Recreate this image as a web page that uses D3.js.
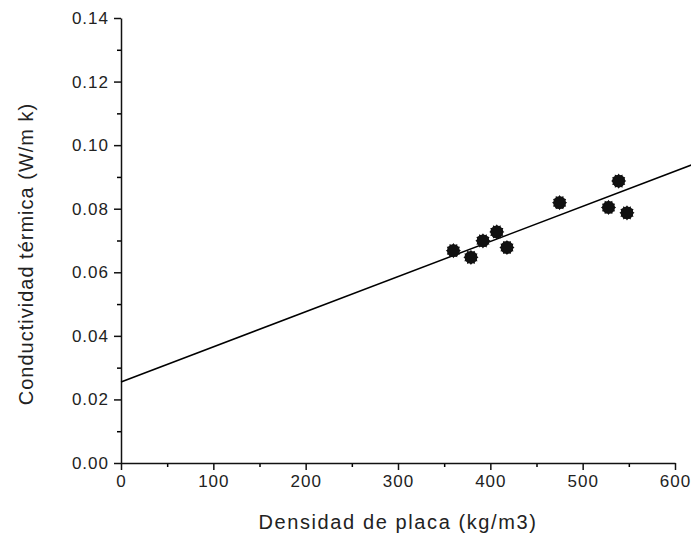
<!DOCTYPE html>
<html>
<head>
<meta charset="utf-8">
<script src="https://cdn.jsdelivr.net/npm/d3@7"></script>
<style>
  body { margin: 0; background: #fff; }
  text { font-family: "Liberation Sans", Arial, sans-serif; fill: #222; }
</style>
</head>
<body>
<div id="chart"></div>
<script>
// measured points: plate density (kg/m3) vs thermal conductivity (W/m k)
var densidad = [360, 379, 392, 407, 418, 475, 528, 539, 548];
var conductividad = [0.0668, 0.0647, 0.0699, 0.0727, 0.0678, 0.0819, 0.0804, 0.0887, 0.0787];
// fitted line end points
var fitX = [0, 620];
var fitY = [0.0255, 0.0940];
var xTicks = [0, 100, 200, 300, 400, 500, 600];
var yTicks = [0, 0.02, 0.04, 0.06, 0.08, 0.10, 0.12, 0.14];

var width = 691, height = 535;
var margin = { top: 18, right: 16, bottom: 72, left: 121 };

var svg = d3.select("#chart").append("svg")
  .attr("width", width)
  .attr("height", height);

var x = d3.scaleLinear().domain([0, 600]).range([margin.left, width - margin.right]);
var y = d3.scaleLinear().domain([0, 0.14]).range([height - margin.bottom, margin.top]);

// minor ticks first so the major ones draw on top
svg.append("g")
  .attr("transform", "translate(0," + y(0) + ")")
  .call(d3.axisBottom(x).tickValues(d3.range(50, 600, 100)).tickSize(4).tickFormat(""))
  .call(function(g) { g.select(".domain").remove(); g.selectAll("line").attr("stroke-width", 1.5); });

svg.append("g")
  .attr("transform", "translate(" + x(0) + ",0)")
  .call(d3.axisLeft(y).tickValues(d3.range(0.01, 0.14, 0.02)).tickSize(4).tickFormat(""))
  .call(function(g) { g.select(".domain").remove(); g.selectAll("line").attr("stroke-width", 1.5); });

var xAxis = svg.append("g")
  .attr("transform", "translate(0," + y(0) + ")")
  .call(d3.axisBottom(x).tickValues(xTicks).tickSize(7).tickSizeOuter(0).tickPadding(5).tickFormat(d3.format("d")));

var yAxis = svg.append("g")
  .attr("transform", "translate(" + x(0) + ",0)")
  .call(d3.axisLeft(y).tickValues(yTicks).tickSize(7).tickSizeOuter(0).tickPadding(5).tickFormat(d3.format(".2f")));

[xAxis, yAxis].forEach(function(g) {
  g.select(".domain").attr("stroke", "#111").attr("stroke-width", 1.5);
  g.selectAll(".tick line").attr("stroke", "#111").attr("stroke-width", 1.5);
  g.selectAll("text")
    .style("font-family", "'Liberation Sans', Arial, sans-serif")
    .style("font-size", "17px")
    .style("letter-spacing", "1px")
    .attr("fill", "#222");
});

// regression line
svg.append("line")
  .attr("x1", x(fitX[0])).attr("y1", y(fitY[0]))
  .attr("x2", x(fitX[1])).attr("y2", y(fitY[1]))
  .attr("stroke", "#000")
  .attr("stroke-width", 1.5);

// gear-like round markers
var gear = d3.lineRadial().curve(d3.curveLinearClosed)(
  d3.range(24).map(function(i) { return [i * Math.PI / 12, i % 2 ? 5.6 : 7.6]; })
);

var pts = svg.append("g").selectAll("g")
  .data(densidad.map(function(d, i) { return [d, conductividad[i]]; }))
  .enter().append("g")
  .attr("transform", function(d) { return "translate(" + x(d[0]) + "," + y(d[1]) + ")"; });

pts.append("path").attr("d", gear).attr("fill", "#111");
pts.append("circle").attr("r", 6.4).attr("fill", "#111");

// axis titles
svg.append("text")
  .attr("x", (x(0) + x(600)) / 2)
  .attr("y", 529)
  .attr("text-anchor", "middle")
  .style("font-size", "20px")
  .style("letter-spacing", "1.6px")
  .text("Densidad de placa (kg/m3)");

svg.append("text")
  .attr("transform", "translate(33," + 254 + ") rotate(-90)")
  .attr("text-anchor", "middle")
  .style("font-size", "20px")
  .style("letter-spacing", "1px")
  .text("Conductividad térmica (W/m k)");
</script>
</body>
</html>
